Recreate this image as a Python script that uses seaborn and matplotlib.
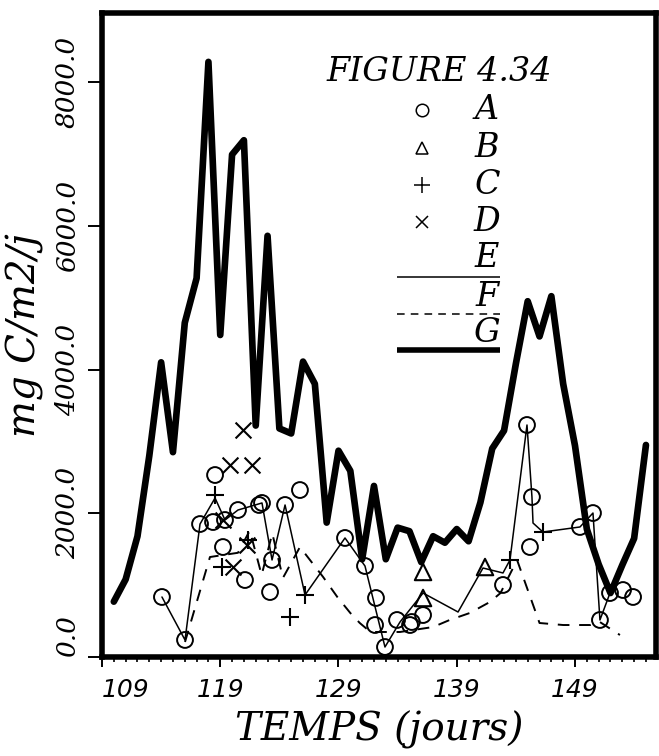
import numpy as np
import pandas as pd
import matplotlib
matplotlib.use("Agg")
import matplotlib.pyplot as plt
import seaborn as sns

# --- données ---
# G : courbe épaisse (valeurs journalières)
g_jours = list(range(110, 156))
g_valeurs = [770, 1080, 1680, 2800, 4100, 2850, 4650, 5270, 8280, 4480,
             6990, 7190, 3220, 5860, 3180, 3110, 4110, 3800, 1870, 2870,
             2590, 1360, 2380, 1360, 1800, 1750, 1320, 1680, 1590, 1780,
             1610, 2150, 2900, 3150, 4080, 4950, 4460, 5020, 3800, 2940,
             1780, 1290, 890, 1280, 1650, 2950]

# E : trait fin
e_jours = [114.07, 116.02, 117.29, 118.56, 119.40, 120.50, 122.53, 123.38,
           124.48, 126.17, 129.55, 131.24, 132.93, 134.20, 136.15, 139.11,
           141.22, 142.91, 143.50, 144.94, 145.36, 145.45, 146.29, 149.42,
           150.52, 151.11, 151.96]
e_valeurs = [835, 237, 1850, 2212, 1906, 2045, 2143, 1350,
             2115, 863, 1656, 1266, 139, 487, 890, 626,
             1238, 1169, 1350, 3228, 2226, 1864, 1739, 1809,
             2003, 515, 890]

# F : tirets
f_jours = [116.02, 118.13, 120.5, 121.5, 122.5, 123.4, 124.3, 125.74,
           127.7, 128.9, 130.0, 130.8, 131.7, 134.2, 137.0, 138.4,
           140.1, 141.8, 142.7, 144.1, 146.0, 148.0, 150.3, 151.1, 152.8]
f_valeurs = [209, 1391, 1450, 1760, 1140, 1720, 1100, 1530,
             1113, 835, 612, 473, 348, 348, 417, 515,
             612, 765, 890, 1350, 473, 445, 445, 487, 306]

# A : cercles
a_jours = [114.07, 116.02, 117.29, 118.56, 118.39, 119.40, 119.23, 120.50,
           121.09, 122.28, 122.53, 123.38, 123.21, 124.48, 125.74, 129.55,
           131.24, 132.17, 132.09, 132.93, 133.95, 135.05, 135.2, 136.15,
           142.91, 144.94, 145.36, 145.19, 149.42, 150.52, 151.11, 151.96,
           153.06, 153.91]
a_valeurs = [835, 237, 1850, 2532, 1878, 1906, 1530, 2045,
             1071, 2115, 2143, 1350, 904, 2115, 2323, 1656,
             1266, 821, 445, 139, 515, 445, 487, 584,
             1002, 3228, 2226, 1530, 1809, 2003, 515, 890,
             932, 835]

# B : triangles
b_jours = [136.15, 136.15, 141.39]
b_valeurs = [1183, 821, 1252]

# C : plus
c_jours = [118.56, 119.15, 121.35, 124.90, 126.17, 143.50, 146.29]
c_valeurs = [2254, 1252, 1628, 557, 863, 1350, 1739]

# D : croix
d_jours = [120.92, 119.82, 121.69, 120.08, 119.23, 121.26]
d_valeurs = [3158, 2671, 2671, 1252, 1906, 1558]

x_ticks = [109, 119, 129, 139, 149]
y_ticks = [0, 2000, 4000, 6000, 8000]

sns.set_style("ticks")
plt.rcParams["font.family"] = ["DejaVu Serif"]
plt.rcParams.update({"axes.edgecolor": "black", "xtick.color": "black",
                     "ytick.color": "black", "text.color": "black",
                     "axes.labelcolor": "black"})

fig = plt.figure(figsize=(6.59, 7.56), dpi=100)
ax = fig.add_axes([102 / 659, 1 - 657 / 756, 554 / 659, 644 / 756])

# courbes
sns.lineplot(x=g_jours, y=g_valeurs, color="black", linewidth=4.8,
             estimator=None, sort=False, ax=ax)
sns.lineplot(x=e_jours, y=e_valeurs, color="black", linewidth=1.1,
             estimator=None, sort=False, ax=ax)
sns.lineplot(x=f_jours, y=f_valeurs, color="black", linewidth=1.4,
             estimator=None, sort=False, ax=ax, dashes=False,
             linestyle=(0, (6, 5)))

# points
sns.scatterplot(x=a_jours, y=a_valeurs, marker="o", s=130, facecolor="none",
                edgecolor="black", linewidth=1.4, ax=ax, zorder=3)
sns.scatterplot(x=b_jours, y=b_valeurs, marker="^", s=140, facecolor="none",
                edgecolor="black", linewidth=1.5, ax=ax, zorder=3)
sns.scatterplot(x=c_jours, y=c_valeurs, marker="+", s=160, color="black",
                linewidth=1.5, ax=ax, zorder=3)
sns.scatterplot(x=d_jours, y=d_valeurs, marker="x", s=130, color="black",
                linewidth=1.5, ax=ax, zorder=3)

# axes
ax.set_xlim(109, 155.85)
ax.set_ylim(0, 8960)
for s in ax.spines.values():
    s.set_linewidth(4)
    s.set_color("black")
    s.set_visible(True)

ax.set_xticks(x_ticks)
ax.set_xticks(np.arange(109, 156, 1), minor=True)
ax.set_xticklabels([str(t) for t in x_ticks], fontsize=18, fontstyle="italic",
                   family="DejaVu Sans")
ax.get_xticklabels()[0].set_ha("left")
ax.set_yticks(y_ticks)
ax.set_yticklabels([f"{t:.1f}" for t in y_ticks], rotation=90, va="center",
                   fontsize=19, fontstyle="italic")
ax.get_yticklabels()[0].set_va("bottom")
ax.tick_params(axis="x", which="major", direction="out", length=7, width=1.4, pad=8)
ax.tick_params(axis="x", which="minor", direction="out", length=3.5, width=1.2)
ax.tick_params(axis="y", which="major", direction="out", length=10, width=1.4, pad=6)

ax.set_xlabel("TEMPS (jours)", fontsize=28, fontstyle="italic", labelpad=6)
ax.set_ylabel("mg C/m2/j", fontsize=28, fontstyle="italic", labelpad=8)

# légende dessinée à la main
tr = ax.transAxes
ax.text(0.406, 0.908, "FIGURE 4.34", transform=tr, fontsize=24,
        fontstyle="italic", va="center", ha="left")
for sym, lab, yy, ms in [("o", "A", 0.850, 9), ("^", "B", 0.790, 9),
                         ("+", "C", 0.733, 11), ("x", "D", 0.675, 9)]:
    ax.plot([0.578], [yy], marker=sym, markersize=ms, mfc="none", mec="black",
            mew=1.1, transform=tr, linestyle="none")
    ax.text(0.695, yy, lab, transform=tr, fontsize=24, fontstyle="italic",
            va="center", ha="center")
for lab, yl, yt, lw, ls in [("E", 0.590, 0.620, 1.1, "-"),
                            ("F", 0.533, 0.559, 1.1, (0, (5, 4))),
                            ("G", 0.477, 0.503, 4.0, "-")]:
    ax.plot([0.532, 0.718], [yl, yl], color="black", linewidth=lw,
            linestyle=ls, transform=tr, solid_capstyle="butt")
    ax.text(0.695, yt, lab, transform=tr, fontsize=24, fontstyle="italic",
            va="center", ha="center")

fig.savefig("out.png", dpi=100)
